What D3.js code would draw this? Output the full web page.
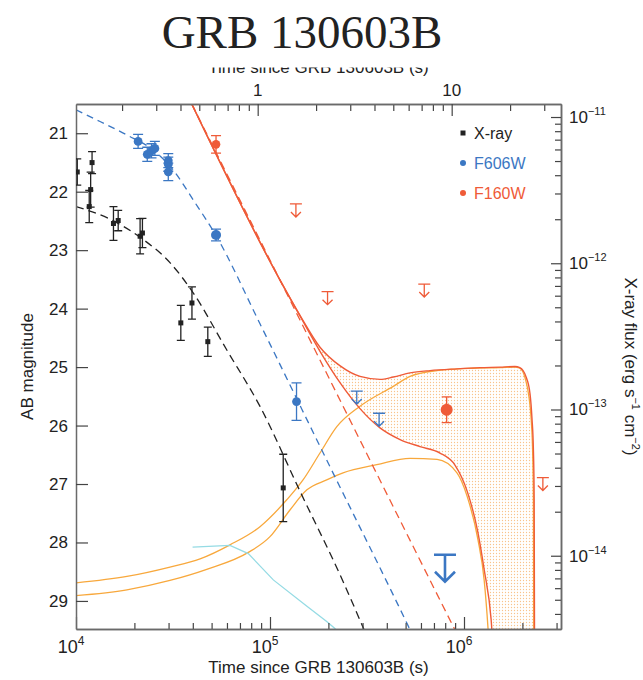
<!DOCTYPE html>
<html>
<head>
<meta charset="UTF-8">
<title>GRB 130603B</title>
<script src="https://cdn.jsdelivr.net/npm/d3@7"></script>
<style>
  body { margin: 0; background: #fff; }
  #container { width: 643px; height: 680px; }
  text { font-family: "Liberation Sans", Arial, sans-serif; fill: #222; }
</style>
</head>
<body>
<div id="container"></div>
<script>
// ---- data: time since burst (s), AB magnitude / X-ray flux (erg s-1 cm-2) ----
var xrayTime = [1.015e4, 1.21e4, 1.19e4, 1.17e4, 1.56e4, 1.65e4, 2.14e4, 2.2e4, 3.47e4, 3.96e4, 4.78e4, 1.17e5];
var xrayFlux = [4.21e-12, 4.88e-12, 3.19e-12, 2.44e-12, 1.87e-12, 1.96e-12, 1.53e-12, 1.61e-12, 3.91e-13, 5.35e-13, 2.91e-13, 2.91e-14];
var xrayErrDex = [0.09, 0.075, 0.12, 0.11, 0.115, 0.07, 0.12, 0.1, 0.12, 0.11, 0.1, 0.23];

var f606Time = [2.09e4, 2.33e4, 2.45e4, 2.55e4, 2.99e4, 2.99e4, 2.99e4, 5.27e4, 1.37e5];
var f606Mag = [21.14, 21.36, 21.3, 21.26, 21.47, 21.53, 21.66, 22.74, 25.59];
var f606Err = [0.12, 0.12, 0.12, 0.12, 0.12, 0.12, 0.15, 0.1, 0.32];
var f606Big = [false, false, false, false, false, false, false, true, false];
var f606LimTime = [2.8e5, 3.65e5, 7.98e5];
var f606LimMag = [25.41, 25.79, 28.21];
var f606LimBig = [false, false, true];

var f160Time = [5.27e4, 8.14e5];
var f160Mag = [21.19, 25.73];
var f160Err = [0.15, 0.22];
var f160Big = [false, true];
var f160LimTime = [1.36e5, 1.98e5, 6.24e5, 2.55e6];
var f160LimMag = [22.21, 23.71, 23.58, 26.89];

// model curves [time, value]
var xrayModel = [[1.0e4, 2.44e-12], [1.5e4, 2.0e-12], [2.21e4, 1.46e-12], [3.05e4, 1.01e-12], [4.01e4, 6.3e-13],
  [5.98e4, 2.56e-13], [8.88e4, 1.05e-13], [1.43e5, 2.75e-14], [2.38e5, 6.67e-15], [2.97e5, 3.4e-15], [3.28e5, 2.5e-15]];
var f606Afterglow = [[1.0e4, 20.6], [1.33e4, 20.8], [1.83e4, 21.03], [2.5e4, 21.29], [3.17e4, 21.63], [4.02e4, 22.14],
  [5.31e4, 22.77], [8.88e4, 24.26], [1.96e5, 26.59], [5.23e5, 29.47], [5.93e5, 29.85]];
var f160Afterglow = [[3.95e4, 20.5], [1.43e5, 24.2], [4.68e5, 27.62], [9.0e5, 29.5], [1.0e6, 29.8]];
var kilonovaHigh = [[1.0e4, 28.69], [1.83e4, 28.58], [3.05e4, 28.42], [4.36e4, 28.28], [6.22e4, 28.04], [8.88e4, 27.73],
  [1.22e5, 27.27], [1.48e5, 26.93], [1.81e5, 26.47], [2.21e5, 26.02], [2.91e5, 25.67], [4.32e5, 25.33], [5.27e5, 25.16],
  [7.26e5, 25.06], [1.11e6, 25.02], [1.53e6, 25.01], [1.83e6, 25.0], [1.94e6, 25.02], [2.07e6, 25.2], [2.16e6, 25.5],
  [2.22e6, 25.9], [2.26e6, 26.5], [2.28e6, 27.3], [2.29e6, 29.8]];
var kilonovaLow = [[1.0e4, 28.91], [1.83e4, 28.81], [3.05e4, 28.65], [4.72e4, 28.46], [7.73e4, 28.17], [1.0e5, 27.9],
  [1.27e5, 27.44], [1.55e5, 27.1], [1.96e5, 26.93], [2.38e5, 26.81], [3.55e5, 26.67], [5.27e5, 26.56], [7.26e5, 26.58],
  [9.2e5, 26.81], [1.04e6, 27.22], [1.18e6, 27.95], [1.27e6, 28.64], [1.33e6, 29.47], [1.36e6, 30.0]];
var kilonovaBlue = [[3.99e4, 28.08], [6.22e4, 28.05], [7.73e4, 28.19], [1.04e5, 28.64], [1.55e5, 29.09], [1.96e5, 29.35],
  [2.16e5, 29.47], [2.44e5, 29.75]];
var totalHigh = [[3.95e4, 20.5], [1.13e5, 23.52], [1.43e5, 24.12], [1.81e5, 24.66], [2.3e5, 24.98], [2.91e5, 25.16],
  [3.69e5, 25.21], [4.32e5, 25.17], [5.27e5, 25.1], [6.68e5, 25.06], [9.2e5, 25.03], [1.21e6, 25.01], [1.53e6, 25.0],
  [1.83e6, 24.99], [1.94e6, 25.01], [2.09e6, 25.17], [2.19e6, 25.46], [2.24e6, 25.87], [2.28e6, 26.44], [2.3e6, 27.27],
  [2.31e6, 29.8]];
var totalLow = [[3.95e4, 20.5], [1.13e5, 23.52], [1.43e5, 24.13], [1.81e5, 24.73], [2.3e5, 25.27], [2.91e5, 25.71],
  [3.69e5, 26.04], [4.68e5, 26.24], [5.93e5, 26.36], [7.52e5, 26.47], [9.0e5, 26.68], [1.04e6, 27.13], [1.18e6, 27.83],
  [1.27e6, 28.46], [1.38e6, 29.32], [1.42e6, 29.9]];

var magTicks = [21, 22, 23, 24, 25, 26, 27, 28, 29];
var timeTicks = [1e4, 1e5, 1e6];
var dayTicks = [1, 10];
var fluxTicks = [1e-11, 1e-12, 1e-13, 1e-14];
var legendNames = ["X-ray", "F606W", "F160W"];

// ---- layout ----
var W = 643, H = 680;
var L = 76, R = 561, T = 104, B = 629;
var cBlack = "#222", cBlue = "#3b77c3", cRed = "#ef5b38", cOrange = "#f8a83c", cCyan = "#95dbe4";

var x = d3.scaleLog().domain([1e4, Math.pow(10, 6.5)]).range([L, R]);
var xd = d3.scaleLog().domain([1e4 / 86400, Math.pow(10, 6.5) / 86400]).range([L, R]);
var y = d3.scaleLinear().domain([20.5, 29.48]).range([T, B]);
var yf = d3.scaleLog().domain([Math.pow(10, -10.911), Math.pow(10, -14.501)]).range([T, B]);

var svg = d3.select("#container").append("svg").attr("width", W).attr("height", H);
var defs = svg.append("defs");
defs.append("clipPath").attr("id", "plot").append("rect")
  .attr("x", L).attr("y", T).attr("width", R - L).attr("height", B - T);
var pat = defs.append("pattern").attr("id", "dots").attr("patternUnits", "userSpaceOnUse")
  .attr("width", 3).attr("height", 3);
pat.append("circle").attr("cx", 1.5).attr("cy", 1.5).attr("r", 0.65).attr("fill", "#f8c38c");

// region between the two total curves: area under high curve, clipped to area above low curve
var lowExt = totalLow.concat([[x.domain()[1], y.domain()[1] + 2]]);
defs.append("clipPath").attr("id", "aboveLow").append("path")
  .attr("d", d3.area().x(function (d) { return x(d[0]); }).y0(T - 20)
    .y1(function (d) { return y(d[1]); }).curve(d3.curveMonotoneX)(lowExt));

var plot = svg.append("g").attr("clip-path", "url(#plot)");
plot.append("g").attr("clip-path", "url(#aboveLow)").append("path")
  .attr("d", d3.area().x(function (d) { return x(d[0]); }).y0(function (d) { return y(d[1]); })
    .y1(B + 20).curve(d3.curveMonotoneX)(totalHigh))
  .attr("fill", "url(#dots)");

var magLine = d3.line().x(function (d) { return x(d[0]); }).y(function (d) { return y(d[1]); }).curve(d3.curveMonotoneX);
var fluxLine = d3.line().x(function (d) { return x(d[0]); }).y(function (d) { return yf(d[1]); }).curve(d3.curveMonotoneX);

function curve(d, gen, color, dash, w) {
  plot.append("path").attr("d", gen(d)).attr("fill", "none").attr("stroke", color)
    .attr("stroke-width", w || 1.3).attr("stroke-dasharray", dash || null);
}
curve(kilonovaHigh, magLine, cOrange);
curve(kilonovaLow, magLine, cOrange);
curve(kilonovaBlue, d3.line().x(function (d) { return x(d[0]); }).y(function (d) { return y(d[1]); }), cCyan);
curve(xrayModel, fluxLine, cBlack, "8,5");
curve(f606Afterglow, magLine, cBlue, "7,5");
curve(f160Afterglow, magLine, cRed, "8,5");
curve(totalHigh, magLine, cRed, null, 1.4);
curve(totalLow, magLine, cRed, null, 1.4);

// ---- axes ----
var axCol = "#6a6a6a";
function styleAxis(g) {
  g.selectAll("path.domain").attr("stroke", axCol).attr("stroke-width", 1.5);
  g.selectAll(".tick line").attr("stroke", "#444").attr("stroke-width", 1.2);
  g.selectAll("text").remove();
}
var xMinor = x.ticks().filter(function (v) { return timeTicks.indexOf(v) < 0; });
svg.append("g").attr("transform", "translate(0," + B + ")")
  .call(d3.axisBottom(x).tickValues(xMinor).tickSizeInner(-6).tickSizeOuter(0)).call(styleAxis);
svg.append("g").attr("transform", "translate(0," + B + ")")
  .call(d3.axisBottom(x).tickValues(timeTicks).tickSizeInner(-12).tickSizeOuter(0)).call(styleAxis);

var dMinor = xd.ticks().filter(function (v) { return dayTicks.indexOf(v) < 0; });
svg.append("g").attr("transform", "translate(0," + T + ")")
  .call(d3.axisTop(xd).tickValues(dMinor).tickSizeInner(-7).tickSizeOuter(0)).call(styleAxis);
svg.append("g").attr("transform", "translate(0," + T + ")")
  .call(d3.axisTop(xd).tickValues(dayTicks).tickSizeInner(-12).tickSizeOuter(0)).call(styleAxis);

svg.append("g").attr("transform", "translate(" + L + ",0)")
  .call(d3.axisLeft(y).tickValues(magTicks).tickSizeInner(-12).tickSizeOuter(0)).call(styleAxis);

var fMinor = yf.ticks().filter(function (v) { return fluxTicks.indexOf(v) < 0; });
svg.append("g").attr("transform", "translate(" + R + ",0)")
  .call(d3.axisRight(yf).tickValues(fMinor).tickSizeInner(-6).tickSizeOuter(0)).call(styleAxis);
svg.append("g").attr("transform", "translate(" + R + ",0)")
  .call(d3.axisRight(yf).tickValues(fluxTicks).tickSizeInner(-10).tickSizeOuter(0)).call(styleAxis);

// tick labels
svg.selectAll("text.maglab").data(magTicks).enter().append("text")
  .attr("x", L - 8).attr("y", function (d) { return y(d) + 6; })
  .attr("text-anchor", "end").attr("font-size", 17).text(function (d) { return d; });

var bl = svg.selectAll("text.tlab").data(timeTicks).enter().append("text")
  .attr("x", function (d) { return x(d) - 5; }).attr("y", B + 24)
  .attr("text-anchor", "middle").attr("font-size", 18);
bl.append("tspan").text("10");
bl.append("tspan").attr("dy", -8).attr("font-size", 12).text(function (d) { return Math.round(Math.log10(d)); });

svg.selectAll("text.dlab").data(dayTicks).enter().append("text")
  .attr("x", function (d) { return xd(d); }).attr("y", T - 8)
  .attr("text-anchor", "middle").attr("font-size", 17).text(function (d) { return d; });

var rl = svg.selectAll("text.flab").data(fluxTicks).enter().append("text")
  .attr("x", R + 8).attr("y", function (d) { return yf(d) + 6; }).attr("font-size", 17);
rl.append("tspan").text("10");
rl.append("tspan").attr("dy", -8).attr("font-size", 11)
  .text(function (d) { return "\u2212" + Math.round(-Math.log10(d)); });

// axis titles
svg.append("text").attr("x", (L + R) / 2).attr("y", B + 44).attr("text-anchor", "middle")
  .attr("font-size", 17).text("Time since GRB 130603B (s)");
svg.append("text").attr("x", (L + R) / 2).attr("y", 73).attr("text-anchor", "middle")
  .attr("font-size", 17).text("Time since GRB 130603B (s)");
svg.append("rect").attr("x", 0).attr("y", 0).attr("width", W).attr("height", 67.5).attr("fill", "#fff");
svg.append("text").attr("transform", "translate(33," + ((T + B) / 2) + ") rotate(-90)")
  .attr("text-anchor", "middle").attr("font-size", 17).text("AB magnitude");
var rt = svg.append("text").attr("transform", "translate(625," + ((T + B) / 2) + ") rotate(90)")
  .attr("text-anchor", "middle").attr("font-size", 17);
rt.append("tspan").text("X-ray flux (erg s");
rt.append("tspan").attr("dy", -7).attr("font-size", 11).text("\u22121");
rt.append("tspan").attr("dy", 7).text(" cm");
rt.append("tspan").attr("dy", -7).attr("font-size", 11).text("\u22122");
rt.append("tspan").attr("dy", 7).text(")");

svg.append("text").attr("x", 302).attr("y", 48).attr("text-anchor", "middle")
  .style("font-family", "'Liberation Serif', 'DejaVu Serif', serif").attr("font-size", 47)
  .text("GRB 130603B");

// ---- data points ----
var pts = svg.append("g").attr("clip-path", "url(#plot)");
function errBar(cx, y0, y1, cap, color) {
  pts.append("path").attr("d", "M" + (cx - cap) + "," + y0 + "H" + (cx + cap) + "M" + cx + "," + y0 + "V" + y1 +
    "M" + (cx - cap) + "," + y1 + "H" + (cx + cap)).attr("stroke", color).attr("stroke-width", 1.3).attr("fill", "none");
}
function upperLimit(cx, cy, big, color) {
  var c = big ? 11 : 6, l = big ? 27 : 13, h = big ? 10 : 5;
  pts.append("path").attr("d", "M" + (cx - c) + "," + cy + "H" + (cx + c) + "M" + cx + "," + cy + "V" + (cy + l) +
    "M" + (cx - h) + "," + (cy + l - h) + "L" + cx + "," + (cy + l) + "L" + (cx + h) + "," + (cy + l - h))
    .attr("stroke", color).attr("stroke-width", big ? 2.6 : 1.3).attr("fill", "none");
}

xrayTime.forEach(function (t, i) {
  var f = xrayFlux[i], e = Math.pow(10, xrayErrDex[i]);
  errBar(x(t), yf(f * e), yf(f / e), 4, cBlack);
  pts.append("rect").attr("x", x(t) - 2.5).attr("y", yf(f) - 2.5).attr("width", 5).attr("height", 5).attr("fill", cBlack);
});
f606Time.forEach(function (t, i) {
  errBar(x(t), y(f606Mag[i] - f606Err[i]), y(f606Mag[i] + f606Err[i]), 5, cBlue);
  pts.append("circle").attr("cx", x(t)).attr("cy", y(f606Mag[i])).attr("r", f606Big[i] ? 5 : 4.4).attr("fill", cBlue);
});
f606LimTime.forEach(function (t, i) { upperLimit(x(t), y(f606LimMag[i]), f606LimBig[i], cBlue); });
f160Time.forEach(function (t, i) {
  errBar(x(t), y(f160Mag[i] - f160Err[i]), y(f160Mag[i] + f160Err[i]), 5, cRed);
  pts.append("circle").attr("cx", x(t)).attr("cy", y(f160Mag[i])).attr("r", f160Big[i] ? 6 : 4.3).attr("fill", cRed);
});
f160LimTime.forEach(function (t, i) { upperLimit(x(t), y(f160LimMag[i]), false, cRed); });

// ---- legend ----
var legColors = [cBlack, cBlue, cRed];
var lg = svg.selectAll("g.leg").data(legendNames).enter().append("g")
  .attr("transform", function (d, i) { return "translate(463," + (133 + i * 30) + ")"; });
lg.each(function (d, i) {
  var g = d3.select(this);
  if (i === 0) g.append("rect").attr("x", -2.5).attr("y", -2.5).attr("width", 5).attr("height", 5).attr("fill", legColors[i]);
  else g.append("circle").attr("r", 3).attr("fill", legColors[i]);
  g.append("text").attr("x", 11).attr("y", 6).attr("font-size", 16).style("fill", legColors[i]).text(d);
});
</script>
</body>
</html>
